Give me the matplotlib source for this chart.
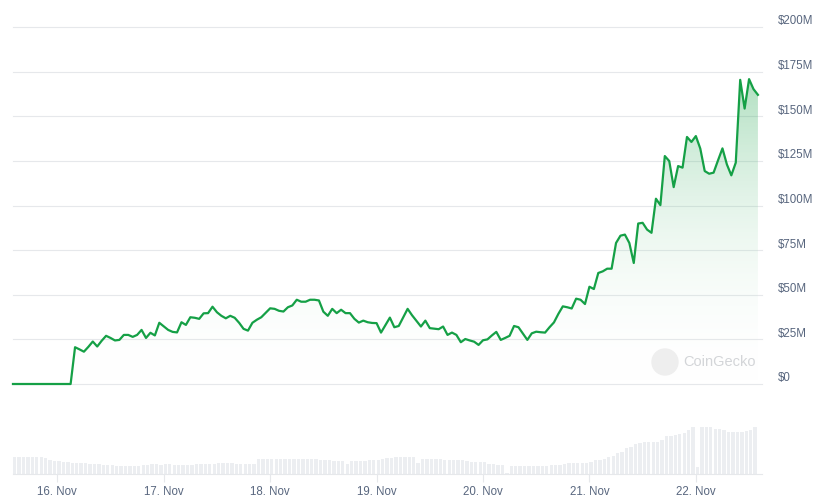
"""Hourly market-cap style chart (CoinGecko look) with volume bars below."""

import matplotlib

matplotlib.use("Agg")

import matplotlib.dates as mdates
import matplotlib.pyplot as plt
import matplotlib.transforms as mtransforms
import numpy as np
import pandas as pd
from matplotlib.colors import LinearSegmentedColormap
from matplotlib.patches import Circle

plt.rcParams["font.family"] = ["Liberation Sans", "DejaVu Sans"]

START = "2023-11-15 14:00"

# price series, $M, hourly
VALUES = [
    0, 0, 0, 0, 0, 0, 0, 0, 0, 0, 0, 0, 0, 0,
    20.6, 19.4, 18.1, 20.8, 23.8, 21.0, 24.2, 27.0, 25.8, 24.4,
    24.7, 27.5, 27.5, 26.4, 27.5, 30.3, 25.8, 28.7, 27.2, 34.3,
    32.3, 30.3, 29.2, 28.9, 34.6, 33.1, 37.4, 37.1, 36.5, 39.6,
    39.7, 43.3, 40.2, 38.2, 36.8, 38.2, 37.1, 34.3, 30.9, 29.9,
    34.3, 36.0, 37.4, 39.9, 42.4, 42.1, 41.0, 40.6, 43.0, 44.0,
    47.2, 46.1, 46.1, 47.2, 47.2, 46.8, 40.5, 38.2, 42.1, 39.7,
    41.6, 39.7, 39.7, 36.5, 34.4, 35.5, 34.6, 34.2, 34.1, 28.8,
    33.0, 37.2, 31.8, 32.5, 37.3, 42.1, 38.5, 35.3, 32.2, 35.5,
    31.3, 31.0, 30.7, 32.2, 27.5, 28.8, 27.5, 23.4, 25.2, 24.4,
    23.7, 21.9, 24.5, 25.0, 27.2, 29.2, 24.7, 25.8, 27.0, 32.5,
    31.8, 28.3, 24.7, 28.4, 29.3, 29.0, 28.8, 31.8, 34.5, 39.3,
    43.5, 43.0, 42.3, 47.8, 47.2, 44.8, 54.5, 53.2, 62.2, 63.1,
    64.6, 64.6, 79.0, 83.1, 83.7, 79.0, 67.8, 89.9, 90.3, 86.5,
    84.7, 103.8, 100.2, 127.7, 124.9, 110.3, 122.1, 121.2, 138.4, 135.6,
    138.9, 131.9, 119.3, 117.8, 118.4, 125.3, 132.0, 123.0, 116.9, 124.0,
    170.4, 154.3, 170.8, 165.2, 162.0,
]

# traded volume, $M, hourly
VOLUMES = [
    1.70, 1.72, 1.70, 1.72, 1.70, 1.68, 1.66, 1.57, 1.37, 1.27,
    1.27, 1.25, 1.25, 1.15, 1.15, 1.13, 1.13, 1.05, 1.03, 1.00,
    0.90, 0.87, 0.87, 0.85, 0.85, 0.85, 0.83, 0.83, 0.85, 0.87,
    0.87, 0.97, 0.97, 0.95, 0.97, 0.97, 0.93, 0.93, 0.95, 0.93,
    0.93, 1.00, 1.00, 1.03, 1.00, 1.03, 1.10, 1.10, 1.13, 1.10,
    1.05, 1.05, 1.03, 0.97, 0.97, 1.50, 1.50, 1.50, 1.50, 1.50,
    1.50, 1.50, 1.50, 1.50, 1.50, 1.50, 1.50, 1.50, 1.50, 1.45,
    1.45, 1.37, 1.35, 1.33, 1.33, 0.97, 1.33, 1.33, 1.35, 1.35,
    1.37, 1.37, 1.40, 1.55, 1.60, 1.65, 1.67, 1.67, 1.67, 1.67,
    1.67, 1.07, 1.50, 1.50, 1.50, 1.47, 1.47, 1.40, 1.40, 1.40,
    1.37, 1.37, 1.27, 1.25, 1.25, 1.23, 1.23, 0.97, 0.97, 0.95,
    0.95, 0.07, 0.83, 0.83, 0.83, 0.83, 0.83, 0.85, 0.85, 0.85,
    0.83, 0.87, 0.90, 0.93, 1.03, 1.07, 1.07, 1.07, 1.10, 1.13,
    1.17, 1.40, 1.45, 1.50, 1.70, 1.80, 2.13, 2.25, 2.60, 2.70,
    2.97, 3.07, 3.17, 3.17, 3.17, 3.20, 3.40, 3.80, 3.83, 3.87,
    4.03, 4.13, 4.40, 4.67, 0.73, 4.67, 4.73, 4.67, 4.47, 4.47,
    4.43, 4.17, 4.17, 4.17, 4.20, 4.30, 4.37, 4.67,
]

DAY_TICKS = pd.date_range("2023-11-16", "2023-11-22", freq="D")
DAY_LABELS = ["16. Nov", "17. Nov", "18. Nov", "19. Nov", "20. Nov", "21. Nov", "22. Nov"]
Y_TICKS = [0, 25, 50, 75, 100, 125, 150, 175, 200]
Y_LABELS = ["$0", "$25M", "$50M", "$75M", "$100M", "$125M", "$150M", "$175M", "$200M"]

GREEN = "#15a046"
GRID = "#e6e8eb"
TEXT = "#58667e"
BAR = "#eceef1"

times = pd.date_range(START, periods=len(VALUES), freq="h")
tnum = mdates.date2num(times)
vals = np.array(VALUES)
hour = 1 / 24
x_lo = tnum[0] - 0.06 * hour
x_hi = tnum[-1] + 0.85 * hour

fig = plt.figure(figsize=(8.18, 4.99), dpi=100)
W, H = 818, 499

# main price axes
ax = fig.add_axes([12.7 / W, 115 / H, 749 / W, 357 / H])
ax.set_xlim(x_lo, x_hi)
ax.set_ylim(0, 200)
for s in ax.spines.values():
    s.set_visible(False)
ax.set_xticks([])
ax.set_yticks([])
for v in Y_TICKS:
    ax.axhline(v, color=GRID, lw=0.8, zorder=0, clip_on=False)

# gradient fill under the line
cmap = LinearSegmentedColormap.from_list(
    "g", [(1, 1, 1, 0), (0.08, 0.63, 0.27, 0.33)]
)
top = vals.max()
grad = np.linspace(0, 1, 256).reshape(-1, 1)
img = ax.imshow(grad, cmap=cmap, origin="lower", aspect="auto",
                extent=[tnum[0], tnum[-1], 0, top], zorder=1, interpolation="bilinear")
poly = ax.fill_between(tnum, vals, 0, color="none", lw=0)
clip = poly.get_paths()[0]
img.set_clip_path(clip, transform=ax.transData)
ax.set_xlim(x_lo, x_hi)
ax.set_ylim(0, 200)

ax.plot(tnum, vals, color=GREEN, lw=1.6, zorder=3, clip_on=False,
        solid_joinstyle="round")

# y labels on the right, sitting just above each grid line
lab_tr = mtransforms.offset_copy(
    mtransforms.blended_transform_factory(ax.transAxes, ax.transData),
    fig=fig, x=11.5, y=4.0, units="points",
)
for v, lab in zip(Y_TICKS, Y_LABELS):
    ax.text(1.0, v, lab, transform=lab_tr, ha="left", va="center",
            fontsize=8.3, color=TEXT)

# watermark
wm_y = 1 - 362 / H
fig.patches.append(Circle((665, H - 362), 13, transform=None,
                          color="#eeeeee", zorder=5))
fig.text(683 / W, wm_y, "CoinGecko", fontsize=10.5, color="#d3d5d8",
         ha="left", va="center", zorder=6)

# volume axes
vax = fig.add_axes([12.7 / W, 25 / H, 749 / W, 54 / H])
vax.bar(tnum[:len(VOLUMES)], VOLUMES, width=0.75 * hour, align="edge",
        color=BAR, lw=0)
vax.set_xlim(x_lo, x_hi)
vax.set_ylim(0, 5.4)
for k in ("top", "left", "right"):
    vax.spines[k].set_visible(False)
vax.spines["bottom"].set_color(GRID)
vax.spines["bottom"].set_linewidth(0.8)
vax.set_yticks([])
vax.set_xticks(mdates.date2num(DAY_TICKS))
vax.set_xticklabels(DAY_LABELS)
vax.tick_params(axis="x", length=5.8, width=0.8, color=GRID, pad=2.5,
                labelsize=8.3, labelcolor=TEXT)

fig.savefig("out.png", dpi=100)
